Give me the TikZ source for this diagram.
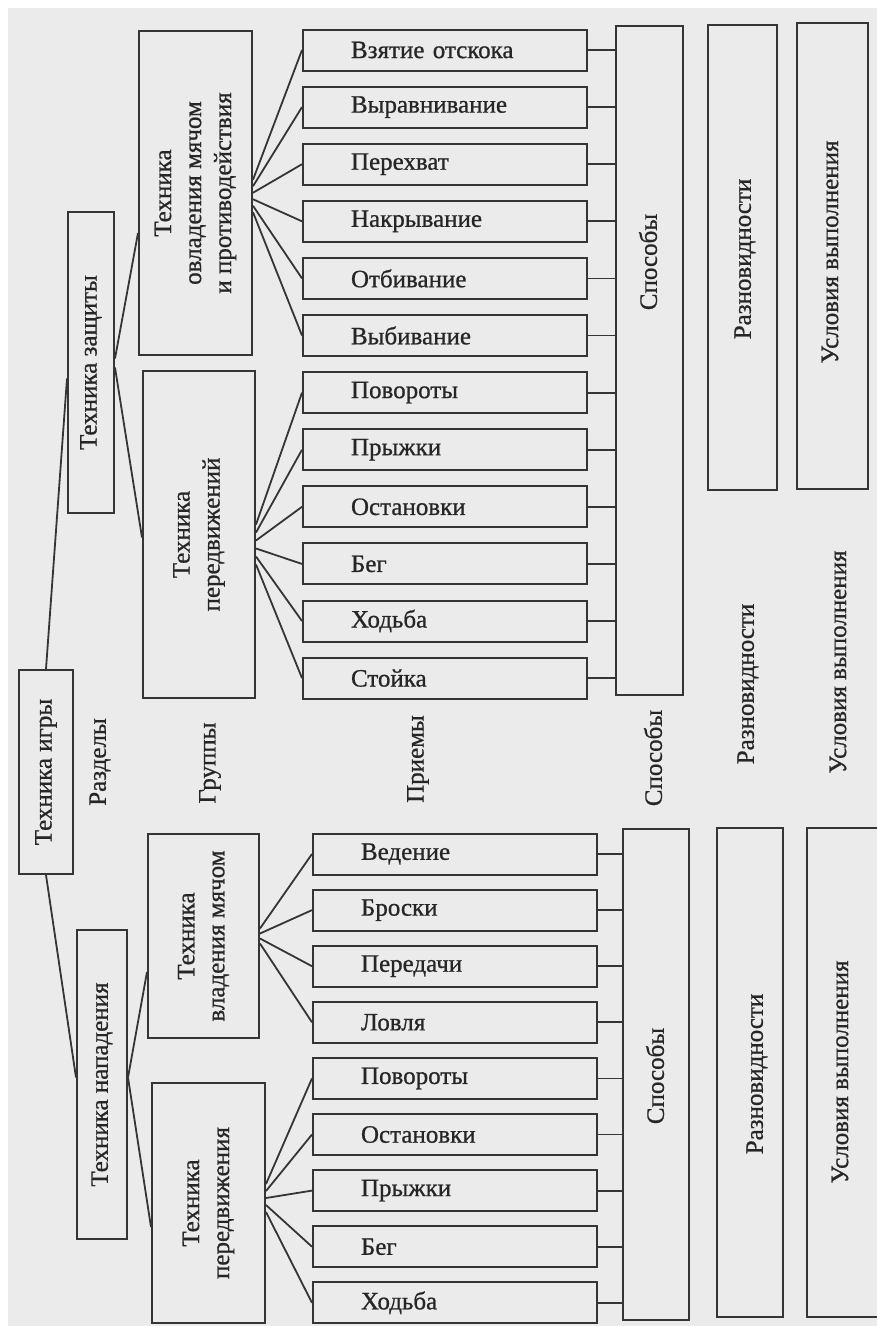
\documentclass[tikz,border=0pt]{standalone}
\usepackage{fontspec}
\setmainfont[FakeBold=0.8]{Liberation Serif}
\usetikzlibrary{calc,fit}
\definecolor{bg}{HTML}{EBEBEB}
\definecolor{ink}{HTML}{353535}
\definecolor{txt}{HTML}{262626}
\tikzset{
  box/.style={draw=ink, line width=2pt, inner sep=0pt},
  pbox/.style={draw=ink, line width=2pt, inner ysep=0pt, inner xsep=48pt,
    text width=188pt, align=left, minimum height=41pt, text=txt},
  lbl/.style={text=txt, inner sep=0pt},
  rot/.style={lbl, rotate=90, align=center},
  con/.style={draw=ink, line width=1.8pt}
}
\begin{document}
\begin{tikzpicture}[x=1pt,y=-1pt,font=\fontsize{25}{30}\selectfont]
\useasboundingbox (0,0) rectangle (877,1326);
\clip (0,0) rectangle (877,1326);
\fill[white] (0,0) rectangle (877,1326);
\fill[bg] (8,8) rectangle (877,1326);

% root and sections
\node[box, fit={(19,670) (73,874)}] (R) {};
\node[rot] (Rt) at (R.center) {Техника игры};
\node[box, fit={(68,212) (114,513)}] (S1) {};
\node[rot] (S1t) at (S1.center) {Техника защиты};
\node[box, fit={(77,930) (127,1239)}] (S2) {};
\node[rot] (S2t) at (S2.center) {Техника нападения};

% groups
\node[box, fit={(139,31) (252,355)}] (G1) {};
\node[rot] (G1t) at (G1.center) {Техника\\овладения мячом\\и противодействия};
\node[box, fit={(143,371) (255,698)}] (G2) {};
\node[rot] (G2t) at (G2.center) {Техника\\передвижений};
\node[box, fit={(148,834) (259,1038)}] (G3) {};
\node[rot] (G3t) at (G3.center) {Техника\\владения мячом};
\node[box, fit={(152,1083) (265,1323)}] (G4) {};
\node[rot] (G4t) at (G4.center) {Техника\\передвижения};

% methods / varieties / conditions
\node[box, fit={(616,26) (683,695)}] (M1) {};
\node[rot] (M1t) at (648,262) {Способы};
\node[box, fit={(708,25) (777,490)}] (V1) {};
\node[rot] (V1t) at (745,259) {Разновидности};
\node[box, fit={(797,23) (868,489)}] (C1) {};
\node[rot] (C1t) at (830,252) {Условия выполнения};
\node[box, fit={(623,829) (689,1320)}] (M2) {};
\node[rot] (M2t) at (655,1076) {Способы};
\node[box, fit={(717,828) (783,1317)}] (V2) {};
\node[rot] (V2t) at (757,1074) {Разновидности};
\node[box, fit={(807,828) (884,1317)}] (C2) {};
\node[rot] (C2t) at (840,1072) {Условия выполнения};

% middle labels
\node[rot] (L1) at (100,762) {Разделы};
\node[rot] (L2) at (210,763) {Группы};
\node[rot] (L3) at (418,759) {Приемы};
\node[rot] (L4) at (653,758) {Способы};
\node[rot] (L5) at (748,684) {Разновидности};
\node[rot] (L6) at (838,662) {Условия выполнения};

% techniques (upper)
\foreach \t [count=\i] in {Взятие отскока,Выравнивание,Перехват,Накрывание,Отбивание,Выбивание,Повороты,Прыжки,Остановки,Бег,Ходьба,Стойка}
  \node[pbox] (U\i) at (445,{50+57.1*(\i-1)}) {\t};
% techniques (lower)
\foreach \t [count=\i] in {Ведение,Броски,Передачи,Ловля,Повороты,Остановки,Прыжки,Бег,Ходьба}
  \node[pbox] (D\i) at (455,{854+56.1*(\i-1)}) {\t};

% connectors root -> sections
\draw[con] (R.north) -- ($(S1.west)+(0,16)$);
\draw[con] (R.south) -- ($(S2.west)+(0,-7)$);
% sections -> groups
\draw[con] ($(S1.east)+(0,-4)$) -- ($(G1.west)+(0,40)$);
\draw[con] ($(S1.east)+(0,5)$) -- ($(G2.west)+(0,3)$);
\draw[con] ($(S2.east)+(0,-7)$) -- ($(G3.west)+(0,36)$);
\draw[con] ($(S2.east)+(0,-7)$) -- ($(G4.west)+(0,24)$);
% groups -> techniques
\foreach \i in {1,...,6}
  \draw[con] ($(G1.east)+(0,{3+(\i-3.5)*6.5})$) -- (U\i.west);
\foreach \i in {7,...,12}
  \draw[con] ($(G2.east)+(0,{10+(\i-9.5)*8})$) -- (U\i.west);
\foreach \i in {1,...,4}
  \draw[con] ($(G3.east)+(0,{(\i-2.5)*5})$) -- (D\i.west);
\foreach \i in {5,...,9}
  \draw[con] ($(G4.east)+(0,{-5+(\i-7)*7})$) -- (D\i.west);
% techniques -> methods
\foreach \i in {1,...,12}
  \draw[con] (U\i.east) -- (U\i.east -| M1.west);
\foreach \i in {1,...,9}
  \draw[con] (D\i.east) -- (D\i.east -| M2.west);
\end{tikzpicture}
\end{document}
